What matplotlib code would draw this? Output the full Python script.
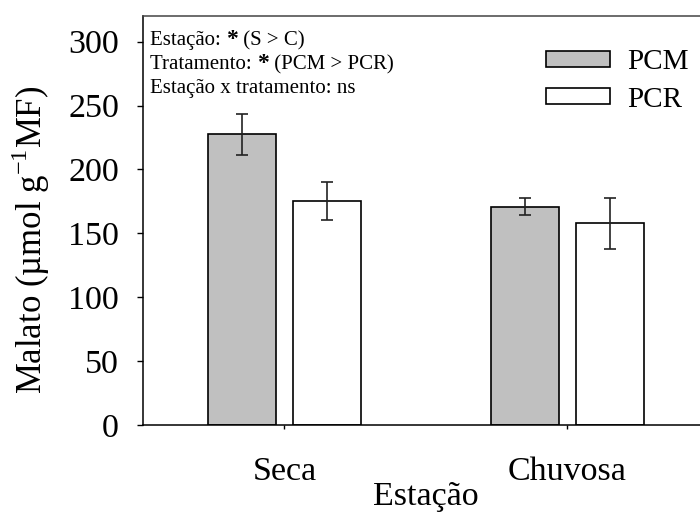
import numpy as np
from matplotlib import pyplot as plt

# Malato por estação e tratamento
estacoes = ['Seca', 'Chuvosa']
pcm = [227.5, 171.0]
pcm_err = [16.0, 6.5]
pcr = [175.5, 158.0]
pcr_err = [15.0, 20.0]
yticks = [0, 50, 100, 150, 200, 250, 300]

plt.rcParams['font.family'] = ['Liberation Serif', 'DejaVu Serif']
plt.rcParams['mathtext.fontset'] = 'custom'
plt.rcParams['mathtext.rm'] = 'Liberation Serif'

fig = plt.figure(figsize=(7, 5.13), dpi=100)
ax = fig.add_axes([0.2043, 0.1715, 0.8083, 0.797])

x = np.arange(len(estacoes))
w = 0.242
off = 0.15
ax.bar(x - off, pcm, w, color='#c0c0c0', edgecolor='black', linewidth=1.2,
       label='PCM', zorder=2)
ax.bar(x + off, pcr, w, color='white', edgecolor='black', linewidth=1.2,
       label='PCR', zorder=2)
ax.errorbar(x - off, pcm, yerr=pcm_err, fmt='none', ecolor='#222222',
            elinewidth=1.2, capsize=4.5, capthick=1.2, zorder=3)
ax.errorbar(x + off, pcr, yerr=pcr_err, fmt='none', ecolor='#222222',
            elinewidth=1.2, capsize=4.5, capthick=1.2, zorder=3)

ax.set_xlim(-0.5, 1.5)
ax.set_ylim(0, 320)
ax.set_xticks(x)
ax.set_xticklabels(estacoes, fontsize=24.5)
ax.set_yticks(yticks)
ax.tick_params(axis='y', labelsize=24.5, direction='out', length=4.3,
               width=1, pad=13)
ax.tick_params(axis='x', direction='out', length=3, width=1, pad=20)
ax.spines['right'].set_visible(False)
for s in ['left', 'bottom', 'top']:
    ax.spines[s].set_linewidth(1.1)
ax.spines['top'].set_color('#444444')

ax.set_xlabel('Estação', fontsize=24.5, labelpad=-4)
ax.set_ylabel('Malato (µmol g$^{\\mathregular{-1}}$MF)', fontsize=25)
ax.yaxis.set_label_coords(-0.16, 0.452)

# texto da análise estatística
linhas = [('Estação: ', '*', ' (S > C)'),
          ('Tratamento: ', '*', ' (PCM > PCR)'),
          ('Estação x tratamento: ns', '', '')]
ys = [0.929, 0.870, 0.813]
for (a, b, c), yy in zip(linhas, ys):
    t = ax.text(0.012, yy, a, transform=ax.transAxes, fontsize=15,
                va='baseline', ha='left')
    if b:
        t2 = ax.annotate(b, xy=(1, 0), xycoords=t, va='bottom', ha='left',
                         fontsize=17, fontweight='bold')
        ax.annotate(c, xy=(1, 0), xycoords=t2, va='bottom', ha='left',
                    fontsize=15)

ax.legend(loc='upper right', bbox_to_anchor=(1.005, 0.932),
          bbox_transform=fig.transFigure, frameon=False, fontsize=21,
          handlelength=2.2, handleheight=0.45, labelspacing=0.38,
          handletextpad=0.6, borderpad=0)

plt.savefig('out.png', dpi=100)
